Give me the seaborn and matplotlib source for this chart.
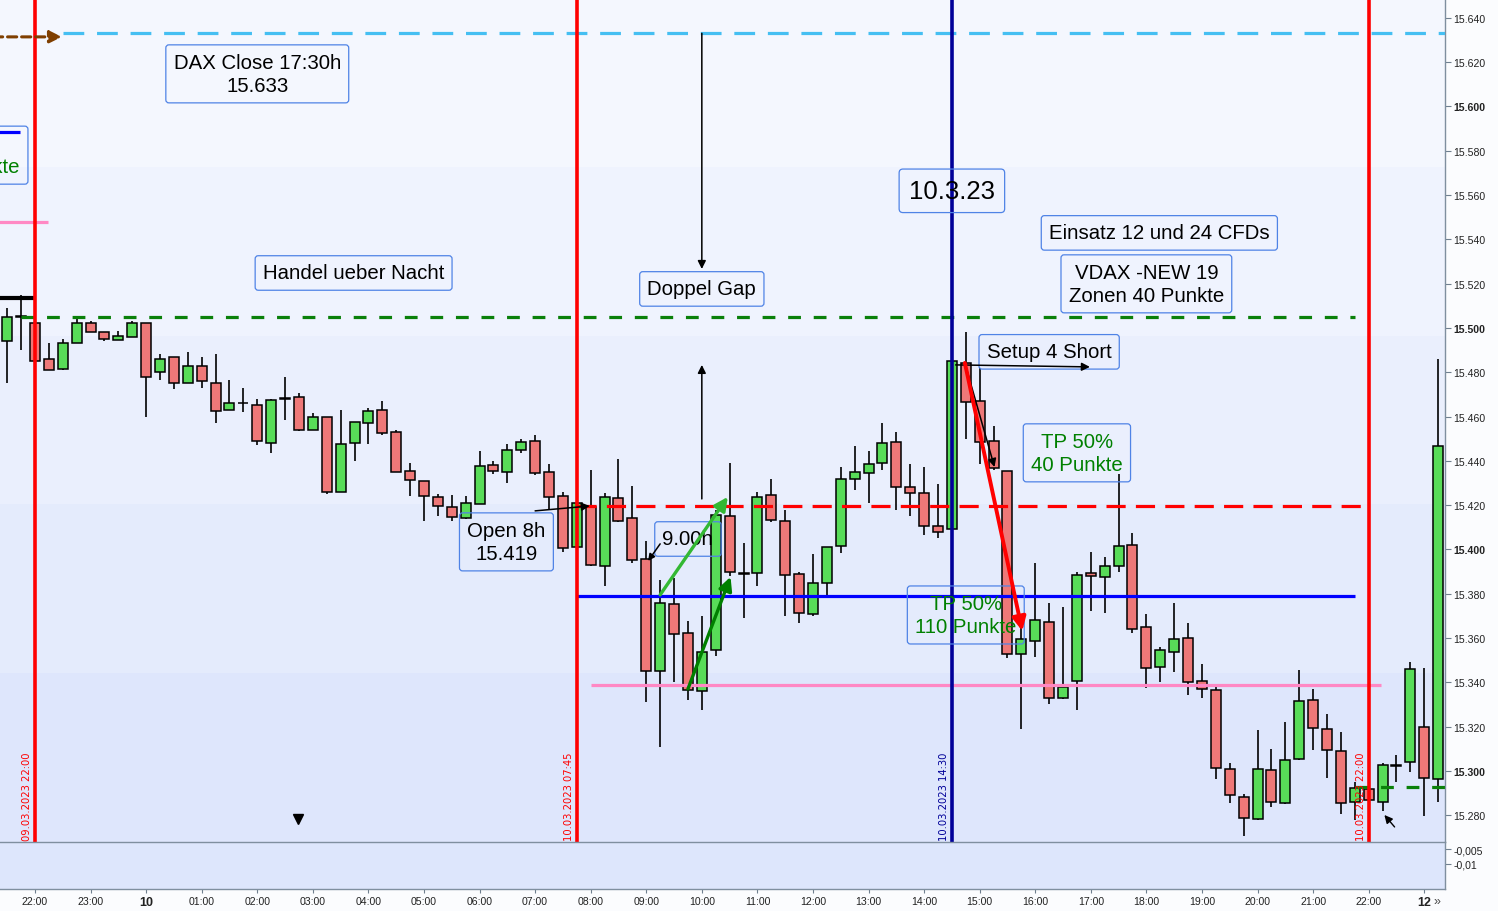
import numpy as np
import pandas as pd
import seaborn as sns
import matplotlib.pyplot as plt

sns.set_theme(style="white")
plt.rcParams['font.family'] = ['Liberation Sans', 'DejaVu Sans']

# DAX 15-min candles, 09.03.2023 21:30 -> 10.03.2023 23:15
opens = [15494, 15505, 15502, 15486, 15481.5, 15493, 15502, 15498, 15494.6, 15496,
         15502, 15480, 15487, 15475, 15483, 15475, 15463, 15466, 15465, 15448,
         15468, 15469, 15454, 15460, 15426, 15448, 15457, 15463, 15453, 15435.4,
         15431, 15423.7, 15419, 15414, 15420.5, 15438, 15435, 15445, 15449, 15435,
         15424, 15401, 15419, 15392.5, 15423, 15414, 15395.7, 15345, 15375.4, 15362.3,
         15336, 15354.6, 15415, 15389, 15389.4, 15424.6, 15413, 15389, 15371, 15385,
         15401.6, 15432, 15434.5, 15439, 15448.5, 15428, 15425.5, 15410.6, 15409, 15484,
         15467, 15449, 15435.4, 15353, 15358.7, 15367.3, 15333, 15340.6, 15389.4, 15387.6,
         15392.6, 15402, 15365, 15347, 15353.7, 15360, 15340.6, 15336.6, 15300.9, 15288.3,
         15278.3, 15300.5, 15285.6, 15305.4, 15332, 15319, 15309, 15286, 15291.8, 15286,
         15302.3, 15304, 15320, 15296.4]
highs = [15509, 15515, 15503, 15493, 15495, 15504.5, 15503, 15498, 15498.6, 15503,
         15502, 15488, 15487, 15489, 15487, 15488, 15476.5, 15473, 15468, 15468,
         15478, 15470.7, 15461.6, 15460, 15463, 15457.6, 15464, 15467, 15454, 15439,
         15431, 15425, 15424.6, 15424, 15444.5, 15440, 15447.6, 15450, 15451.7, 15438.6,
         15426, 15426, 15436, 15425.5, 15441, 15428.7, 15404, 15386, 15387, 15367.7,
         15370, 15418, 15439, 15403, 15426, 15432, 15418, 15390, 15398, 15401,
         15437, 15446.7, 15444.5, 15457, 15453, 15438.6, 15437, 15429.6, 15486, 15498,
         15482, 15455.8, 15435.4, 15371, 15394, 15376, 15374, 15390, 15399, 15396.6,
         15434, 15407.5, 15371, 15356, 15375.8, 15366.8, 15348.3, 15338, 15303.6, 15289.6,
         15318.5, 15310, 15322, 15345.6, 15337, 15325.7, 15317.6, 15295, 15292, 15303.6,
         15307, 15349, 15346.5, 15486]
lows = [15475, 15490, 15484, 15481, 15481, 15493, 15498, 15494, 15494.6, 15496,
        15460, 15476.5, 15472.5, 15475, 15473, 15457, 15463, 15462, 15447, 15443.6,
        15458.5, 15453.5, 15454, 15425, 15426, 15440, 15447.6, 15451.7, 15435, 15424,
        15413, 15415, 15413, 15413.8, 15420.5, 15434, 15430, 15443.6, 15433.6, 15418.3,
        15399, 15401, 15392.5, 15383.5, 15412.4, 15394, 15331, 15311, 15340, 15332,
        15327.5, 15352, 15388, 15369, 15383.5, 15412.4, 15370, 15367, 15370, 15379,
        15398.4, 15427, 15421, 15436, 15418, 15415, 15406.5, 15405, 15409, 15450,
        15438.6, 15436, 15351, 15319, 15351.5, 15330, 15332.5, 15327.5, 15372, 15371.3,
        15390, 15362.3, 15337.5, 15340, 15344.7, 15334.3, 15333, 15296.4, 15285.6, 15270.7,
        15278, 15283.7, 15285, 15305, 15309.5, 15297, 15280.6, 15278, 15286.5, 15282,
        15295, 15299.5, 15279.7, 15286]
closes = [15505, 15505, 15485, 15481, 15493, 15502, 15498, 15495, 15496.4, 15502,
          15478, 15486, 15475, 15483, 15476, 15462.5, 15466, 15466, 15449, 15467.5,
          15468, 15454, 15460, 15426, 15447.6, 15457.6, 15462.5, 15452.6, 15435, 15431.4,
          15424, 15419.6, 15414.7, 15421, 15437.7, 15435.4, 15445, 15448.5, 15434.5, 15423.7,
          15400.7, 15421, 15393, 15423.7, 15413, 15395, 15345, 15376, 15362, 15336.6,
          15353.7, 15415.6, 15390, 15389, 15423.7, 15413.3, 15388.5, 15371.3, 15385, 15401,
          15432, 15435, 15438.6, 15448, 15428, 15425.5, 15410.6, 15408, 15485, 15466.6,
          15448.5, 15436.8, 15353, 15359.6, 15368, 15333, 15338, 15388.5, 15388, 15392.6,
          15401.6, 15364, 15346.5, 15354.6, 15359.6, 15340, 15337, 15301.4, 15289, 15278.8,
          15301, 15286, 15305, 15331.6, 15319.4, 15309.5, 15285.6, 15292.3, 15287, 15302.7,
          15302.3, 15346, 15297, 15446.7]

times = pd.date_range("2023-03-09 21:30", periods=len(opens), freq="15min")
origin = pd.Timestamp("2023-03-09 22:00")

# horizontal levels: price, start time, end time, colour, style
levels = [
    (15633, "2023-03-09 22:30", "2023-03-11 00:00", "#45bff2", (0, (6.5, 4))),
    (15505, "2023-03-09 21:45", "2023-03-10 21:45", "#0a800a", (0, (4, 4))),
    (15292.8, "2023-03-10 21:45", "2023-03-11 00:00", "#0a800a", (0, (4, 4))),
    (15419.5, "2023-03-10 07:45", "2023-03-10 21:53", "#ff0000", (0, (6, 3.2))),
    (15379, "2023-03-10 07:45", "2023-03-10 21:45", "#0000ff", "-"),
    (15339, "2023-03-10 08:00", "2023-03-10 22:13", "#ff88c4", "-"),
    (15548, "2023-03-09 21:00", "2023-03-09 22:14", "#ff88c4", "-"),
    (15513.5, "2023-03-09 21:00", "2023-03-09 21:59", "#000000", "-"),
    (15588.5, "2023-03-09 21:00", "2023-03-09 21:44", "#0000ff", "-"),
]
vlines = [("2023-03-09 22:00", "#ff0000", "09.03.2023 22:00"),
          ("2023-03-10 07:45", "#ff0000", "10.03.2023 07:45"),
          ("2023-03-10 14:30", "#000099", "10.03.2023 14:30"),
          ("2023-03-10 22:00", "#ff0000", "10.03.2023 22:00")]

# text boxes: text, time, price, colour, size, horizontal alignment
boxes = [
    ("DAX Close 17:30h\n15.633", "2023-03-10 02:00", 15614.7, "black", 14.7, "center"),
    ("Handel ueber Nacht", "2023-03-10 03:44", 15524.8, "black", 14.7, "center"),
    ("Doppel Gap", "2023-03-10 10:00", 15517.6, "black", 14.7, "center"),
    ("10.3.23", "2023-03-10 14:30", 15561.9, "black", 18.5, "center"),
    ("Einsatz 12 und 24 CFDs", "2023-03-10 18:14", 15542.9, "black", 14.7, "center"),
    ("VDAX -NEW 19\nZonen 40 Punkte", "2023-03-10 18:00", 15519.9, "black", 14.7, "center"),
    ("Setup 4 Short", "2023-03-10 16:15", 15489.2, "black", 14.7, "center"),
    ("TP 50%\n40 Punkte", "2023-03-10 16:45", 15443.6, "#008000", 14.7, "center"),
    ("Open 8h\n15.419", "2023-03-10 06:29", 15403.4, "black", 14.7, "center"),
    ("9.00h", "2023-03-10 09:45", 15404.7, "black", 14.7, "center"),
    ("TP 50%\n110 Punkte", "2023-03-10 14:45", 15370.4, "#008000", 14.7, "center"),
    (" \nPunkte", "2023-03-09 21:44", 15578.0, "#008000", 14.7, "right"),
]

# arrows: start time, start price, end time, end price, colour, width, head size
arrows = [
    ("2023-03-10 10:00", 15633, "2023-03-10 10:00", 15526.6, "black", 1.1, 12),
    ("2023-03-10 10:00", 15422.8, "2023-03-10 10:00", 15483.3, "black", 1.1, 12),
    ("2023-03-10 07:00", 15417.4, "2023-03-10 07:59", 15419.6, "black", 1.1, 12),
    ("2023-03-10 09:15", 15402.5, "2023-03-10 09:02", 15394.8, "black", 1.1, 10),
    ("2023-03-10 09:15", 15379.5, "2023-03-10 10:28", 15423.7, "#33b833", 2.4, 20),
    ("2023-03-10 09:45", 15337, "2023-03-10 10:31", 15387.6, "#008000", 2.4, 20),
    ("2023-03-10 14:34", 15483.3, "2023-03-10 16:59", 15482.4, "black", 1.1, 12),
    ("2023-03-10 14:44", 15484.2, "2023-03-10 15:16", 15437.2, "black", 1.1, 12),
    ("2023-03-10 14:44", 15484.2, "2023-03-10 15:46", 15363.2, "#ff0000", 2.8, 20),
    ("2023-03-09 21:00", 15631.4, "2023-03-09 22:29", 15631.4, "#7f3f00", 2.2, 18),
    ("2023-03-10 22:28", 15274.7, "2023-03-10 22:17", 15280.1, "black", 1.0, 12),
]
marker_down = ("2023-03-10 02:44", 15278.5)


def hrs(s):
    return (pd.Timestamp(s) - origin) / pd.Timedelta(hours=1)


df = pd.DataFrame({"t": (times - origin) / pd.Timedelta(hours=1),
                   "open": opens, "high": highs, "low": lows, "close": closes})
df["up"] = df.close >= df.open

fig = plt.figure(figsize=(14.98, 9.12), dpi=100)
fig.patch.set_facecolor("#fbfcfe")
ax = fig.add_axes([0, 69 / 912, 1445 / 1498, 843 / 912])
sub = fig.add_axes([0, 22 / 912, 1445 / 1498, 47 / 912])

# background bands
bands = ["#f4f7fe", "#eff3fe", "#eaeffd", "#e4ebfc", "#dee6fc"]
grad = np.array([[int(c[1:3], 16), int(c[3:5], 16), int(c[5:7], 16)] for c in bands]) / 255
ax.imshow(grad[:, None, :], extent=[0, 1, 0, 1], transform=ax.transAxes,
          aspect="auto", zorder=0, interpolation="nearest")

# candles
ax.vlines(df.t, df.low, df.high, color="black", lw=1.2, zorder=3)
ax.bar(df.t, (df.close - df.open).where(lambda s: s.abs() > 0.3, 0.3), bottom=df.open,
       width=0.18, color=np.where(df.up, "#58dc58", "#ee7878"),
       edgecolor="black", linewidth=1.1, zorder=4)

for p, a, b, c, ls in levels:
    lw = 3.0 if c == "#000000" else 2.3
    ax.hlines(p, hrs(a), hrs(b), colors=c, linestyles=[ls], lw=lw, zorder=5)

for tt, c, lab in vlines:
    x = hrs(tt)
    ax.axvline(x, color=c, lw=2.6, zorder=6)
    ax.text(x - 0.14, 15268.6, lab, rotation=90, ha="center", va="bottom",
            color="#ff0000" if c == "#ff0000" else "#000099", fontsize=7.2,
            family="DejaVu Sans", zorder=7)

for txt, tt, p, c, fs, ha in boxes:
    ax.text(hrs(tt), p, txt, ha=ha, va="center", multialignment="center",
            linespacing=1.3, color=c, fontsize=fs, zorder=8,
            bbox=dict(boxstyle="round,pad=0.38,rounding_size=0.15", fc="none",
                      ec="#4f83e6", lw=0.9))

for t0, p0, t1, p1, c, lw, hs in arrows:
    dashed = c == "#7f3f00"
    ax.annotate("", xy=(hrs(t1), p1), xytext=(hrs(t0), p0), zorder=9,
                arrowprops=dict(arrowstyle="-|>", color=c, lw=lw, mutation_scale=hs,
                                shrinkA=0, shrinkB=0,
                                linestyle=(0, (3, 1.6)) if dashed else "-"))

ax.plot([hrs(marker_down[0])], [marker_down[1]], marker="v", color="black",
        markersize=7, zorder=9)

ax.set_xlim(-0.63, 25.374)
ax.set_ylim(15267.9, 15648.5)
ax.set_xticks([])
yt = np.arange(15280, 15641, 20)
ax.yaxis.tick_right()
ax.set_yticks(yt)
ax.set_yticklabels([f"{v / 1000:.3f}" for v in yt])
for lab, v in zip(ax.get_yticklabels(), yt):
    if v % 100 == 0:
        lab.set_fontweight("bold")
ax.tick_params(axis="y", right=True, length=4, width=0.8, color="#6f7f8f",
               labelsize=7.6, pad=2, labelcolor="#222222")
for s in ["left", "top", "bottom"]:
    ax.spines[s].set_visible(False)
ax.spines["right"].set_color("#7f8f9f")
ax.spines["right"].set_linewidth(1)

# lower indicator panel
sub.set_facecolor("#dde6fc")
sub.set_xlim(-0.63, 25.374)
sub.set_ylim(-0.01857, -0.0025)
sub.yaxis.tick_right()
sub.set_yticks([-0.005, -0.01])
sub.set_yticklabels(["-0,005", "-0,01"])
sub.tick_params(axis="y", right=True, length=4, width=0.8, color="#6f7f8f",
                labelsize=7.6, pad=2, labelcolor="#222222")
hours = list(range(26))
hour_labels = [f"{(22 + h) % 24:02d}:00" for h in hours]
hour_labels[2] = "10"
hour_labels[25] = "12"
sub.set_xticks(hours)
sub.set_xticklabels(hour_labels)
sub.tick_params(axis="x", bottom=True, length=3, width=0.8, color="#6f7f8f",
                labelsize=7.6, pad=2, labelcolor="#222222")
for lab, h in zip(sub.get_xticklabels(), hours):
    if h in (2, 25):
        lab.set_fontweight("bold")
        lab.set_fontsize(9)
for s in ["left"]:
    sub.spines[s].set_visible(False)
for s in ["top", "bottom", "right"]:
    sub.spines[s].set_color("#7f8f9f")
    sub.spines[s].set_linewidth(1)
fig.text(1437 / 1498, 10 / 912, "\u00bb", fontsize=9, ha="center", va="center",
         color="#444444")

fig.savefig("out.png", dpi=100, facecolor=fig.get_facecolor())
